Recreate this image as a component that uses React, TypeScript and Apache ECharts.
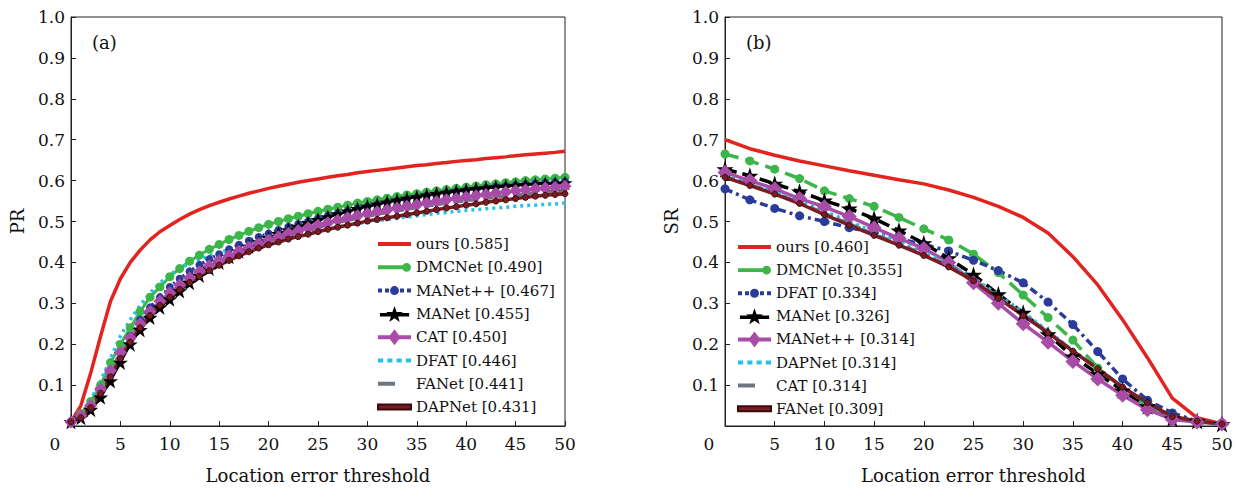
import React, { useEffect, useRef } from "react";
import * as echarts from "echarts";

// Thresholds (pixels) for the precision plot (a)
const thresholdsA = [
  0, 1, 2, 3, 4, 5, 6, 7, 8, 9,
  10, 11, 12, 13, 14, 15, 16, 17, 18, 19,
  20, 21, 22, 23, 24, 25, 26, 27, 28, 29,
  30, 31, 32, 33, 34, 35, 36, 37, 38, 39,
  40, 41, 42, 43, 44, 45, 46, 47, 48, 49,
  50,
];

// Thresholds for the success plot (b)
const thresholdsB = [0, 2.5, 5, 7.5, 10, 12.5, 15, 17.5, 20, 22.5, 25, 27.5, 30, 32.5, 35, 37.5, 40, 42.5, 45, 47.5, 50];

const xTicks = [0, 5, 10, 15, 20, 25, 30, 35, 40, 45, 50];
const yTicks = [0, 0.1, 0.2, 0.3, 0.4, 0.5, 0.6, 0.7, 0.8, 0.9, 1.0];

// (a) PR curves
const prOurs = [
  0.01, 0.05, 0.13, 0.22, 0.305, 0.36, 0.40, 0.43, 0.455, 0.475,
  0.49, 0.505, 0.518, 0.529, 0.539, 0.547, 0.555, 0.562, 0.569, 0.575,
  0.581, 0.586, 0.591, 0.596, 0.600, 0.604, 0.608, 0.612, 0.615, 0.619,
  0.622, 0.625, 0.628, 0.631, 0.634, 0.637, 0.639, 0.642, 0.644, 0.647,
  0.649, 0.651, 0.654, 0.656, 0.658, 0.661, 0.663, 0.665, 0.667, 0.669,
  0.672,
];
const prDMCNet = [
  0.01, 0.03, 0.06, 0.10, 0.155, 0.20, 0.24, 0.28, 0.315, 0.34,
  0.365, 0.385, 0.403, 0.418, 0.432, 0.444, 0.456, 0.466, 0.476, 0.485,
  0.493, 0.500, 0.507, 0.513, 0.519, 0.525, 0.530, 0.535, 0.540, 0.545,
  0.549, 0.553, 0.557, 0.561, 0.565, 0.568, 0.572, 0.575, 0.578, 0.581,
  0.584, 0.587, 0.590, 0.592, 0.595, 0.597, 0.600, 0.602, 0.604, 0.606,
  0.608,
];
const prMANetPP = [
  0.01, 0.025, 0.05, 0.09, 0.13, 0.18, 0.22, 0.26, 0.29, 0.315,
  0.34, 0.36, 0.378, 0.394, 0.408, 0.42, 0.432, 0.443, 0.453, 0.462,
  0.471, 0.479, 0.487, 0.494, 0.501, 0.508, 0.514, 0.520, 0.526, 0.532,
  0.537, 0.542, 0.547, 0.551, 0.555, 0.559, 0.563, 0.567, 0.570, 0.573,
  0.576, 0.579, 0.582, 0.585, 0.587, 0.589, 0.591, 0.593, 0.595, 0.596,
  0.598,
];
const prMANet = [
  0.01, 0.02, 0.04, 0.07, 0.11, 0.155, 0.20, 0.235, 0.265, 0.29,
  0.31, 0.33, 0.35, 0.368, 0.385, 0.40, 0.414, 0.427, 0.439, 0.450,
  0.460, 0.470, 0.479, 0.488, 0.496, 0.504, 0.511, 0.518, 0.525, 0.531,
  0.537, 0.542, 0.547, 0.552, 0.556, 0.560, 0.564, 0.568, 0.571, 0.574,
  0.577, 0.580, 0.582, 0.584, 0.586, 0.588, 0.590, 0.591, 0.592, 0.593,
  0.594,
];
const prCAT = [
  0.01, 0.025, 0.05, 0.09, 0.135, 0.18, 0.215, 0.25, 0.28, 0.305,
  0.326, 0.345, 0.362, 0.377, 0.391, 0.404, 0.416, 0.427, 0.437, 0.446,
  0.455, 0.463, 0.471, 0.478, 0.485, 0.491, 0.497, 0.503, 0.509, 0.514,
  0.519, 0.524, 0.529, 0.533, 0.537, 0.541, 0.545, 0.549, 0.553, 0.556,
  0.560, 0.563, 0.566, 0.569, 0.572, 0.575, 0.577, 0.580, 0.582, 0.584,
  0.586,
];
const prDFAT = [
  0.01, 0.03, 0.065, 0.11, 0.165, 0.22, 0.26, 0.295, 0.325, 0.35,
  0.37, 0.385, 0.397, 0.407, 0.416, 0.424, 0.431, 0.437, 0.443, 0.449,
  0.455, 0.460, 0.465, 0.470, 0.475, 0.479, 0.483, 0.487, 0.491, 0.495,
  0.498, 0.502, 0.505, 0.508, 0.511, 0.514, 0.517, 0.520, 0.522, 0.525,
  0.527, 0.529, 0.531, 0.533, 0.535, 0.537, 0.539, 0.540, 0.542, 0.543,
  0.545,
];
const prFANet = [
  0.01, 0.022, 0.045, 0.08, 0.125, 0.17, 0.205, 0.24, 0.27, 0.295,
  0.318, 0.338, 0.356, 0.372, 0.386, 0.399, 0.411, 0.422, 0.432, 0.441,
  0.450, 0.458, 0.466, 0.473, 0.480, 0.486, 0.492, 0.498, 0.503, 0.508,
  0.513, 0.518, 0.522, 0.526, 0.530, 0.534, 0.538, 0.541, 0.545, 0.548,
  0.551, 0.554, 0.557, 0.559, 0.562, 0.564, 0.567, 0.569, 0.571, 0.573,
  0.575,
];
const prDAPNet = [
  0.01, 0.02, 0.045, 0.08, 0.12, 0.165, 0.205, 0.24, 0.27, 0.295,
  0.315, 0.334, 0.351, 0.366, 0.38, 0.393, 0.405, 0.416, 0.426, 0.435,
  0.443, 0.450, 0.457, 0.463, 0.469, 0.475, 0.481, 0.486, 0.491, 0.496,
  0.501, 0.505, 0.509, 0.513, 0.517, 0.521, 0.525, 0.529, 0.533, 0.536,
  0.540, 0.543, 0.547, 0.550, 0.553, 0.556, 0.559, 0.562, 0.564, 0.566,
  0.568,
];

// (b) SR curves
const srOurs = [0.700, 0.678, 0.662, 0.648, 0.636, 0.624, 0.613, 0.602, 0.592, 0.577, 0.559, 0.537, 0.510, 0.472, 0.414, 0.345, 0.260, 0.167, 0.068, 0.020, 0.005];
const srDMCNet = [0.665, 0.648, 0.628, 0.605, 0.575, 0.556, 0.537, 0.510, 0.482, 0.455, 0.420, 0.375, 0.320, 0.265, 0.210, 0.142, 0.085, 0.050, 0.020, 0.008, 0.004];
const srDFAT = [0.580, 0.553, 0.532, 0.514, 0.500, 0.485, 0.472, 0.458, 0.444, 0.428, 0.405, 0.380, 0.350, 0.303, 0.248, 0.182, 0.115, 0.063, 0.032, 0.012, 0.004];
const srMANet = [0.628, 0.612, 0.592, 0.573, 0.551, 0.532, 0.507, 0.478, 0.447, 0.410, 0.370, 0.322, 0.277, 0.224, 0.170, 0.128, 0.087, 0.048, 0.018, 0.012, 0.005];
const srMANetPP = [0.620, 0.600, 0.580, 0.556, 0.536, 0.512, 0.485, 0.459, 0.434, 0.400, 0.350, 0.300, 0.250, 0.205, 0.158, 0.115, 0.075, 0.040, 0.016, 0.010, 0.005];
const srDAPNet = [0.612, 0.592, 0.572, 0.550, 0.525, 0.500, 0.474, 0.450, 0.425, 0.396, 0.362, 0.320, 0.278, 0.232, 0.185, 0.140, 0.095, 0.055, 0.022, 0.012, 0.005];
const srCAT = [0.610, 0.590, 0.569, 0.546, 0.520, 0.494, 0.469, 0.445, 0.420, 0.392, 0.358, 0.315, 0.273, 0.230, 0.184, 0.140, 0.095, 0.056, 0.022, 0.012, 0.005];
const srFANet = [0.608, 0.588, 0.567, 0.544, 0.517, 0.491, 0.466, 0.442, 0.417, 0.389, 0.355, 0.312, 0.270, 0.228, 0.183, 0.140, 0.095, 0.057, 0.023, 0.012, 0.005];

const FONT = "DejaVu Serif";
const STAR = "path://M50,0 L61.2,34.5 L97.6,34.5 L68.2,55.9 L79.4,90.5 L50,69.1 L20.6,90.5 L31.8,55.9 L2.4,34.5 L38.8,34.5 Z";

// Legend swatches (line sample with its marker)
const ICON_SOLID = "path://M0,-2 H33 V2 H0 Z";
const ICON_DOTS = "path://M0,-2 H5 V2 H0 Z M9,-2 H14 V2 H9 Z M18,-2 H23 V2 H18 Z M27,-2 H32 V2 H27 Z";
const ICON_DASH = "path://M0,-2 H17 V2 H0 Z M33,-0.01 H33.01 V0.01 H33 Z";
const ICON_BAR = "path://M0,-2.5 H33 V2.5 H0 Z";
const ICON_DOT_END = "path://M0,-2 H26 V2 H0 Z M25,0 A4.5,4.5 0 1,1 34,0 A4.5,4.5 0 1,1 25,0 Z";
const ICON_DOTTED_DOT = "path://M0,-2 H4 V2 H0 Z M7,-2 H11 V2 H7 Z M12,0 A4.5,4.5 0 1,1 21,0 A4.5,4.5 0 1,1 12,0 Z M22,-2 H26 V2 H22 Z M29,-2 H33 V2 H29 Z";
const ICON_STAR =
  "path://M0,-2 H33 V2 H0 Z M16.5,-10 L18.85,-3.24 L26.01,-3.09 L20.3,1.24 L22.38,8.09 L16.5,4 L10.62,8.09 L12.7,1.24 L6.99,-3.09 L14.15,-3.24 Z";
const ICON_DIAMOND = "path://M0,-2 H33 V2 H0 Z M16.5,-8 L22.5,0 L16.5,8 L10.5,0 Z";

type Style = {
  color: string;
  type: any;
  width: number;
  symbol: string;
  symbolSize: number;
  icon: string;
  border?: string;
};

// Line styles by legend rank (same order in both panels)
const RED: Style = { color: "#e3231f", type: "solid", width: 3.5, symbol: "none", symbolSize: 0, icon: ICON_SOLID };
const GREEN_A: Style = { color: "#3cb64a", type: "solid", width: 3, symbol: "circle", symbolSize: 9, icon: ICON_DOT_END };
const GREEN_B: Style = { color: "#3cb64a", type: [14, 7], width: 3.5, symbol: "circle", symbolSize: 9, icon: ICON_DOT_END };
const BLUE_A: Style = { color: "#2a3b98", type: [2, 4], width: 3.5, symbol: "circle", symbolSize: 8, icon: ICON_DOTTED_DOT };
const BLUE_B: Style = { color: "#2a3b98", type: [8, 4, 3, 4], width: 3.5, symbol: "circle", symbolSize: 9, icon: ICON_DOTTED_DOT };
const BLACK_A: Style = { color: "#000000", type: "solid", width: 2.5, symbol: STAR, symbolSize: 15, icon: ICON_STAR };
const BLACK_B: Style = { color: "#000000", type: [12, 6], width: 3.5, symbol: STAR, symbolSize: 17, icon: ICON_STAR };
const MAGENTA_A: Style = { color: "#a84ca8", type: "solid", width: 3, symbol: "diamond", symbolSize: 13, icon: ICON_DIAMOND };
const MAGENTA_B: Style = { color: "#a84ca8", type: "solid", width: 3.5, symbol: "diamond", symbolSize: 15, icon: ICON_DIAMOND };
const CYAN: Style = { color: "#2bbfe9", type: [3, 4], width: 3.5, symbol: "none", symbolSize: 0, icon: ICON_DOTS };
const GRAY: Style = { color: "#6c7782", type: [10, 5], width: 3.5, symbol: "none", symbolSize: 0, icon: ICON_DASH };
const MAROON: Style = { color: "#7a1d23", type: "solid", width: 3.5, symbol: "circle", symbolSize: 6, border: "#3a0b0e", icon: ICON_BAR };

const panelA: [string, number[], Style][] = [
  ["ours [0.585]", prOurs, RED],
  ["DMCNet [0.490]", prDMCNet, GREEN_A],
  ["MANet++ [0.467]", prMANetPP, BLUE_A],
  ["MANet [0.455]", prMANet, BLACK_A],
  ["CAT [0.450]", prCAT, MAGENTA_A],
  ["DFAT [0.446]", prDFAT, CYAN],
  ["FANet [0.441]", prFANet, GRAY],
  ["DAPNet [0.431]", prDAPNet, MAROON],
];

const panelB: [string, number[], Style][] = [
  ["ours [0.460]", srOurs, RED],
  ["DMCNet [0.355]", srDMCNet, GREEN_B],
  ["DFAT [0.334]", srDFAT, BLUE_B],
  ["MANet [0.326]", srMANet, BLACK_B],
  ["MANet++ [0.314]", srMANetPP, MAGENTA_B],
  ["DAPNet [0.314]", srDAPNet, CYAN],
  ["CAT [0.314]", srCAT, GRAY],
  ["FANet [0.309]", srFANet, MAROON],
];

function buildSeries(panel: [string, number[], Style][], xs: number[], idx: number) {
  return panel.map(([name, values, s]) => ({
    name,
    type: "line",
    xAxisIndex: idx,
    yAxisIndex: idx,
    data: xs.map((x, i) => [x, values[i]]),
    symbol: s.symbol,
    symbolSize: s.symbolSize,
    showSymbol: s.symbol !== "none",
    lineStyle: { color: s.color, width: s.width, type: s.type },
    itemStyle: {
      color: s.color,
      borderColor: s.border || s.color,
      borderWidth: s.border ? 1 : 0,
    },
    emphasis: { disabled: true },
  }));
}

function xAxis(idx: number) {
  return {
    type: "value",
    gridIndex: idx,
    min: xTicks[0],
    max: xTicks[xTicks.length - 1],
    interval: 5,
    name: "Location error threshold",
    nameLocation: "middle",
    nameGap: 40,
    nameTextStyle: { fontFamily: FONT, fontSize: 18, color: "#111" },
    axisLine: { show: true, lineStyle: { color: "#222", width: 1 } },
    axisTick: { show: true, inside: true, length: 5, lineStyle: { color: "#222" } },
    splitLine: { show: false },
    axisLabel: {
      fontFamily: FONT,
      fontSize: 17,
      color: "#111",
      margin: 9,
      formatter: (v: number) => (v === 0 ? "{z|0}" : String(v)),
      rich: { z: { fontFamily: FONT, fontSize: 17, color: "#111", padding: [0, 32, 0, 0] } },
    },
  };
}

function yAxis(idx: number, name: string) {
  return {
    type: "value",
    gridIndex: idx,
    min: yTicks[0],
    max: yTicks[yTicks.length - 1],
    interval: 0.1,
    name,
    nameLocation: "middle",
    nameGap: 45,
    nameTextStyle: { fontFamily: FONT, fontSize: 18, color: "#111" },
    axisLine: { show: true, lineStyle: { color: "#222", width: 1 } },
    axisTick: { show: true, inside: true, length: 5, lineStyle: { color: "#222" } },
    splitLine: { show: false },
    axisLabel: {
      fontFamily: FONT,
      fontSize: 17,
      color: "#111",
      margin: 6,
      formatter: (v: number) => (v === 0 ? "" : v.toFixed(1)),
    },
  };
}

function legend(panel: [string, number[], Style][], left: number, top: number, gap: number) {
  return {
    orient: "vertical",
    left,
    top,
    padding: 0,
    itemWidth: 33,
    itemHeight: 16,
    itemGap: gap,
    selectedMode: false,
    symbolKeepAspect: true,
    data: panel.map(([name, , s]) => ({ name, icon: s.icon })),
    textStyle: { fontFamily: FONT, fontSize: 15, color: "#111", lineHeight: 16 },
  };
}

export default function App() {
  const ref = useRef<HTMLDivElement>(null);

  useEffect(() => {
    if (!ref.current) return;
    const chart = echarts.init(ref.current, undefined, { renderer: "svg" });
    chart.setOption({
      animation: false,
      backgroundColor: "#ffffff",
      title: [
        { text: "(a)", left: 92, top: 33, padding: 0, textStyle: { fontFamily: FONT, fontSize: 18, fontWeight: "normal", color: "#111" } },
        { text: "(b)", left: 746, top: 33, padding: 0, textStyle: { fontFamily: FONT, fontSize: 18, fontWeight: "normal", color: "#111" } },
      ],
      grid: [
        { left: 71, top: 17, width: 494, height: 411, show: true, borderColor: "#222", borderWidth: 1 },
        { left: 725, top: 17, width: 497, height: 411, show: true, borderColor: "#222", borderWidth: 1 },
      ],
      xAxis: [xAxis(0), xAxis(1)],
      yAxis: [yAxis(0, "PR"), yAxis(1, "SR")],
      legend: [legend(panelA, 377, 236, 7.3), legend(panelB, 737, 239, 7.1)],
      series: [...buildSeries(panelA, thresholdsA, 0), ...buildSeries(panelB, thresholdsB, 1)],
    });
    return () => chart.dispose();
  }, []);

  return (
    <div
      ref={ref}
      style={{ position: "fixed", left: 0, top: 0, width: 1243, height: 489, background: "#fff" }}
    />
  );
}
